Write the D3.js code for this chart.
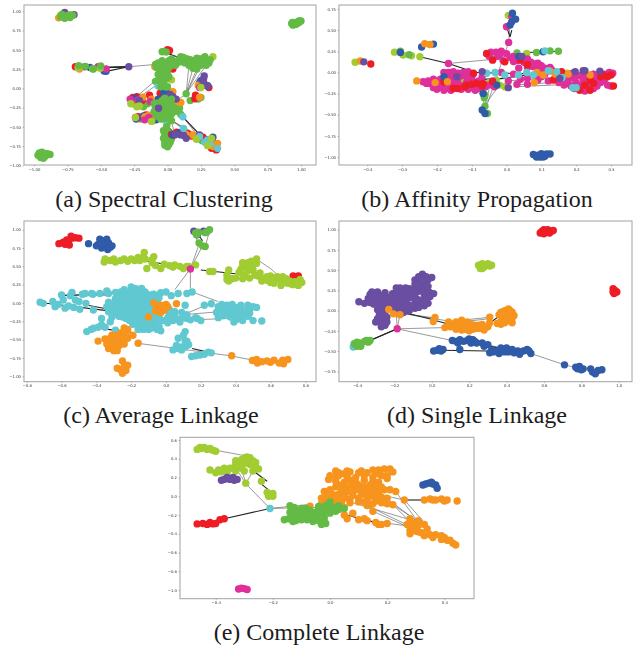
<!DOCTYPE html>
<html lang="en">
<head>
<meta charset="UTF-8">
<title>Clustering comparison</title>
<script src="https://d3js.org/d3.v7.min.js"></script>
<style>
    html, body { margin: 0; padding: 0; background: white; }
    svg { display: block; }
    .frame { fill: white; stroke: #a2a2a2; stroke-width: 1; }
    .edge { stroke: #555; stroke-width: 0.6; fill: none; }
    .edge-thick { stroke: #222; stroke-width: 1.1; fill: none; }
    .tick text { font-family: "DejaVu Sans", sans-serif; font-size: 3.8px; fill: #333; }
    .tick line { stroke: #666; stroke-width: 0.4; }
    .domain { display: none; }
    .caption { font-family: "Liberation Serif", serif; font-size: 24px; fill: #1c1c1c; text-anchor: middle; }
</style>
</head>
<body>
<script>
// ---- (a) Spectral Clustering
const spectralXTicks = [-1, -0.75, -0.5, -0.25, 0, 0.25, 0.5, 0.75, 1];
const spectralYTicks = [-1, -0.75, -0.5, -0.25, 0, 0.25, 0.5, 0.75, 1];
const spectralGreenBack = [[-0.01,-0.52],[0,-0.56],[-0.02,-0.6],[0.01,-0.63],[-0.01,-0.67],[0.02,-0.7],[-0.02,-0.7],[0.01,-0.73],[-0.005,-0.48],[0.03,-0.42],[0.14,-0.07],[0.17,-0.16],[0.23,-0.14],[0.25,-0.12],[0.22,-0.66],[0.26,-0.68],[0.33,-0.66],[-0.09,0.09],[-0.03,0.06],[-0.26,-0.16],[-0.18,-0.24],[-0.15,-0.2],[-0.2,-0.4],[-0.11,-0.42],[-0.03,-0.55],[0.02,-0.58],[-0.03,-0.65],[0.03,-0.66],[0,-0.76],[-0.02,-0.74],[0.1,-0.34],[0.09,-0.26]];
const spectralRed = [[0,0.5],[0.015,0.49],[0.03,0.28],[0.04,0.25],[0.27,0.36],[-0.69,0.28],[-0.135,-0.09],[-0.055,-0.065],[-0.23,-0.11],[-0.16,-0.345],[-0.22,-0.37],[0.205,-0.135],[0.31,0.01],[0.05,-0.605],[0.365,-0.8],[0.265,-0.635],[0.15,-0.585],[0.345,-0.715],[0.03,-0.6],[-0.04,-0.17],[-0.08,-0.35],[0.07,-0.57],[0.18,-0.62],[0.33,-0.78],[-0.19,-0.16],[-0.26,-0.12],[-0.18,-0.38],[0.28,0.05],[0.21,-0.09]];
const spectralBlue = [[-0.07,-0.14],[0.005,-0.04],[-0.085,-0.41],[-0.13,-0.37],[0.09,-0.575],[0.04,-0.605],[0.3,0.035],[0.24,0.07],[0.34,-0.635],[-0.62,0.28],[-0.235,-0.4],[-0.46,0.22],[-0.475,0.225],[-0.58,0.27],[0,0.33],[-0.03,-0.05],[0.11,-0.59],[0.31,-0.67],[-0.2,-0.13],[-0.25,-0.13],[-0.18,-0.36],[0.25,0.1],[0.27,0.04]];
const spectralPurple = [[0.265,0.085],[0.275,0.16],[0.3,0.03],[0.04,-0.11],[0.065,-0.14],[0.1,-0.605],[0.14,-0.65],[-0.225,-0.39],[0.24,-0.605],[-0.77,0.985],[-0.7,0.955],[-0.29,0.28],[0.06,-0.6],[0.12,-0.61],[-0.21,-0.16],[0.27,0.12],[0.02,-0.08]];
const spectralOrange = [[-0.185,-0.115],[-0.115,-0.4],[-0.085,-0.2],[0.05,-0.205],[0.04,-0.045],[0.1,-0.185],[0.375,-0.715],[0.24,-0.115],[-0.17,-0.37],[0.34,-0.755],[0.19,-0.605],[-0.095,0.28],[-0.66,0.25],[-0.815,0.915],[0.01,0.27],[-0.12,-0.14],[0.23,0.04],[-0.14,-0.35],[-0.23,-0.2],[0.14,-0.6],[0.36,-0.74]];
const spectralMagenta = [[-0.28,-0.14],[-0.52,0.28],[-0.46,0.25],[-0.17,-0.41],[-0.22,-0.15],[-0.24,-0.38],[-0.13,-0.17],[0.24,0.01],[-0.25,-0.2],[-0.14,-0.38]];
const spectralTeal = [[0.115,-0.37],[-0.02,-0.41],[0.3,-0.67],[0.225,0.295],[-0.07,0.03],[0.24,-0.63],[0.375,-0.78],[-0.02,0.22],[0.12,-0.52],[0.28,-0.7],[0.32,-0.72]];
const spectralLime = [[0.34,0.41],[-0.275,-0.2],[-0.21,-0.23],[0.3,-0.745],[0.33,-0.65],[0.215,-0.66],[0.25,0.01],[-0.12,-0.43],[-0.01,0.02],[-0.67,0.27],[-0.56,0.25],[-0.505,0.26],[-0.8,0.95],[-0.725,0.955],[0.03,0.11],[-0.23,-0.24],[-0.24,-0.38]];
const spectralGreenFront = [[-0.09,0.31],[-0.07,0.33],[-0.05,0.3],[-0.03,0.33],[-0.01,0.28],[0.01,0.36],[0.03,0.38],[0.06,0.35],[0.09,0.38],[0.1,0.41],[0.12,0.36],[0.15,0.38],[0.17,0.37],[0.18,0.33],[0.2,0.36],[0.22,0.39],[0.24,0.34],[0.26,0.38],[0.28,0.41],[0.3,0.36],[0.31,0.33],[0.16,0.3],[0.19,0.26],[0.22,0.25],[0.25,0.3],[0.29,0.3],[0.32,0.37],[0.03,0.3],[0.06,0.3],[0,0.24],[-0.02,0.21],[-0.04,0.25],[-0.06,0.23],[-0.03,0.17],[-0.05,0.12],[-0.01,0.12],[-0.05,0.02],[0,0.02],[-0.06,0.29],[-0.04,0.36],[-0.03,0.48],[-0.01,0.47],[-0.04,0.475],[-0.8,0.93],[-0.79,0.96],[-0.77,0.91],[-0.75,0.94],[-0.73,0.92],[-0.71,0.95],[0.93,0.84],[0.945,0.85],[0.96,0.855],[0.975,0.86],[0.99,0.87],[1,0.875],[0.95,0.83],[0.97,0.84],[0.985,0.855],[0.935,0.855],[-0.96,-0.84],[-0.94,-0.87],[-0.92,-0.89],[-0.95,-0.9],[-0.97,-0.87],[-0.9,-0.85],[-0.88,-0.86],[-0.92,-0.85],[-0.94,-0.83],[-0.665,0.295],[-0.615,0.285],[-0.555,0.25],[-0.5,0.29],[-0.1,-0.2],[-0.07,-0.19],[-0.04,-0.22],[-0.01,-0.18],[0.02,-0.2],[0.05,-0.25],[-0.09,-0.25],[-0.06,-0.28],[-0.02,-0.26],[0.01,-0.29],[0.04,-0.31],[-0.08,-0.32],[-0.04,-0.34],[-0.01,-0.35],[0.02,-0.36],[-0.1,-0.3],[0.06,-0.3],[-0.05,-0.4],[-0.02,-0.13],[0.03,-0.14],[0.01,0.32],[0.05,0.33],[0.09,0.34],[0.13,0.33],[0.22,0.33],[0.26,0.34],[0.2,0.3],[-0.08,0.27],[-0.02,0.29],[-0.04,0.2],[0,0.18],[-0.07,0.18],[-0.07,0.1],[-0.03,0.09],[0.01,0.15],[0.03,0.34],[0.12,0.4],[0.24,0.38],[-0.07,-0.22],[-0.03,-0.29],[0,-0.22],[0.03,-0.26],[-0.06,-0.36],[0,-0.31],[0.06,-0.27],[-0.04,-0.16],[-0.08,-0.36],[0.03,-0.33],[-0.01,-0.39],[-0.95,-0.86],[-0.91,-0.87],[-0.93,-0.91],[-0.76,0.93],[-0.74,0.95],[0.96,0.83],[0.985,0.875],[0.94,0.82]];
const spectralPurpleFront = [[-0.067,-0.26]];
const spectralEdges = [[-0.29,0.28,-0.09,0.31],[-0.07,0.13,-0.22,-0.09],[-0.05,0.08,-0.2,-0.1],[0.14,-0.07,0.19,0.26],[0.14,-0.07,0.16,0.3],[0.14,-0.07,0.22,0.25],[0.14,-0.07,0.25,0.3],[0.14,-0.07,0.29,0.3],[0.12,-0.52,-0.01,-0.36],[0.115,-0.37,0.22,-0.6],[0.03,-0.42,0.24,-0.62],[0.03,-0.42,0.16,-0.58],[0.03,-0.42,0.05,-0.58],[0.12,-0.37,0.03,-0.28],[0.14,-0.07,0.04,-0.2]];
const spectralThick = [[-0.29,0.28,-0.46,0.22],[-0.29,0.28,-0.55,0.26],[-0.29,0.28,-0.62,0.27],[-0.29,0.28,-0.66,0.26],[0.2,0.33,0.31,0.3],[-0.01,0.46,0.07,0.41],[0.115,-0.37,0.24,-0.6],[0,-0.5,0.05,-0.57],[0.25,-0.6,0.3,-0.63]];

// ---- (b) Affinity Propagation
const affinityXTicks = [-0.4, -0.3, -0.2, -0.1, 0, 0.1, 0.2, 0.3];
const affinityYTicks = [-1, -0.75, -0.5, -0.25, 0, 0.25, 0.5, 0.75];
const affinityGreen = [[-0.062,-0.27],[-0.064,-0.3],[-0.062,-0.4],[-0.055,-0.485],[0.125,0.255],[0.149,0.25],[0.086,0.235],[-0.28,0.21],[0.03,0.23],[-0.305,0.25],[-0.04,0.16]];
const affinityLime = [[-0.435,0.12],[-0.322,0.24],[-0.297,0.205],[-0.249,0.185],[-0.273,0.197],[0.005,0.675],[-0.005,-0.17],[-0.03,-0.09],[-0.124,-0.1],[0.225,-0.12],[0.058,0.225],[-0.05,-0.12],[-0.02,-0.15],[0.175,-0.01]];
const affinityBlue = [[0.017,0.7],[0.026,0.63],[0.01,0.56],[0.015,0.6],[0.077,-0.97],[0.086,-1],[0.096,-1],[0.105,-1],[0.115,-0.965],[0.125,-0.965],[0.1,-0.96],[0.11,-0.99],[0.09,-0.98],[-0.244,0.3],[-0.21,0.335],[-0.305,0.235],[-0.067,-0.25],[-0.07,-0.445],[-0.062,-0.485],[-0.028,-0.15],[0.105,0.245],[0.035,0.19],[-0.18,-0.05]];
const affinityMagenta = [[-0.167,0.106],[0.006,0.355],[0,0.54],[0.015,0.66],[-0.18,0],[-0.167,0],[-0.153,0.01],[-0.139,-0.01],[-0.124,0],[-0.11,0.01],[-0.096,-0.02],[-0.24,-0.11],[-0.225,-0.1],[-0.21,-0.08],[-0.2,-0.13],[-0.19,-0.17],[-0.175,-0.1],[-0.175,-0.19],[-0.16,-0.21],[-0.145,-0.17],[-0.13,-0.2],[-0.115,-0.12],[-0.1,-0.18],[-0.085,-0.17],[-0.19,-0.08],[-0.16,-0.06],[-0.14,-0.07],[-0.21,-0.16],[-0.23,-0.13],[-0.057,0.22],[-0.045,0.24],[-0.03,0.24],[-0.015,0.25],[0,0.22],[0.01,0.18],[-0.025,0.19],[-0.01,0.14],[0.02,0.13],[-0.05,0.19],[0.06,0.16],[0.07,0.12],[0.075,0.07],[0.09,0.05],[0.1,0.08],[0.06,0.06],[0.035,0.05],[0.11,-0.02],[0.14,-0.06],[0.15,-0.12],[0.165,-0.03],[0.165,-0.15],[0.18,-0.07],[0.19,-0.01],[0.21,-0.04],[0.23,-0.06],[0.2,-0.12],[0.215,-0.17],[0.24,-0.17],[0.25,-0.02],[0.265,-0.08],[0.285,-0.06],[0.26,-0.16],[0.28,-0.02],[0.295,0],[0.3,-0.16],[0.29,-0.15],[0.27,-0.12],[0.225,-0.22],[0.005,-0.1],[0.03,-0.14],[0.06,-0.14],[0.09,-0.09],[-0.07,-0.05],[-0.04,-0.1],[-0.08,-0.1],[-0.015,0],[0.02,-0.02],[0.1,0],[0.13,0.03],[0.05,0.12],
    [-0.175,-0.05],[-0.15,-0.04],[-0.13,-0.04],[-0.115,-0.05],[-0.1,-0.06],[-0.22,-0.13],[-0.21,-0.18],[-0.2,-0.2],[-0.18,-0.21],[-0.17,-0.15],[-0.155,-0.12],[-0.14,-0.13],[-0.125,-0.16],[-0.11,-0.2],[-0.095,-0.12],[-0.09,-0.21],[-0.075,-0.19],[-0.06,-0.17],[-0.05,-0.15],[-0.035,-0.17],[-0.02,0.21],[0.02,0.19],[0.03,0.14],[0.045,0.17],[0.08,0.1],[0.09,0.11],[0.11,0.05],[0.125,0.06],[0.14,0],[0.155,-0.06],[0.17,-0.09],[0.175,-0.13],[0.185,-0.16],[0.195,-0.07],[0.205,-0.15],[0.22,-0.09],[0.225,-0.03],[0.24,-0.05],[0.255,-0.09],[0.27,-0.03],[0.28,-0.1],[0.29,-0.03],[0.305,-0.01],[0.25,-0.19],[0.23,-0.2],[0.195,-0.19],[0.12,-0.1],[0.1,-0.05],[0.08,-0.03],[0.06,-0.07],[0.04,-0.08]];
const affinityRed = [[-0.39,0.1],[-0.04,0.145],[-0.005,0.125],[0.04,0.145],[-0.057,0.225],[-0.095,-0.01],[-0.086,-0.13],[-0.115,-0.15],[-0.153,-0.19],[-0.067,-0.13],[0.158,0.008],[0.24,-0.09],[0.278,-0.03],[0.3,-0.03],[0.307,-0.16],[0.24,-0.21],[0.21,-0.21],[0.134,-0.09],[-0.04,-0.11],[-0.18,-0.11],[0.25,-0.13],[0.27,-0.05],[0.06,0.09],[-0.12,-0.17],[-0.1,-0.14],[0.225,-0.15],[0.29,-0.05],[-0.07,-0.16],[-0.14,-0.19]];
const affinityOrange = [[-0.258,-0.1],[-0.42,0.135],[-0.235,0.34],[0.08,-0.12],[0.105,-0.03],[0.087,0],[0.125,0.015],[0.177,-0.02],[0.24,-0.03],[-0.17,-0.11],[0.14,-0.02],[-0.205,-0.12],[-0.22,0.33]];
const affinityTeal = [[-0.005,-0.03],[0.034,-0.03],[0.058,0],[0.077,-0.03],[0.144,0.008],[0.2,-0.18],[0.19,-0.18],[0.11,0.255],[-0.033,0],[-0.057,-0.01],[0.16,-0.06],[0.12,0.02]];
const affinityPurple = [[-0.41,0.125],[-0.143,-0.05],[-0.07,0.01],[0.197,0.01],[0.22,0.02],[0.268,0.015],[0.005,-0.18],[0.153,-0.07],[0.044,0.19],[0.225,0.02]];
const affinityEdges = [[-0.167,0.106,-0.05,0.15],[0.006,0.355,-0.055,-0.37],[0.006,0.355,0.01,0.56],[-0.062,-0.38,-0.09,-0.15],[-0.062,-0.38,-0.02,-0.15],[-0.062,-0.38,-0.05,-0.2],[0,-0.1,0.2,-0.05],[0.02,-0.15,0.2,-0.1],[0.02,-0.17,0.24,-0.13]];
const affinityThick = [[-0.249,0.185,-0.167,0.106],[-0.167,0.106,-0.09,0],[0,0.54,0.01,0.42],[-0.18,-0.1,0,-0.07],[-0.1,0,0.1,-0.02],[-0.05,-0.09,0.06,-0.03],[0.15,-0.12,0.27,-0.14],[0.06,0.235,0.149,0.25],[0.01,0.42,0.015,0.5]];

// ---- (c) Average Linkage
const averageXTicks = [-0.8, -0.6, -0.4, -0.2, 0, 0.2, 0.4, 0.6, 0.8];
const averageYTicks = [-1, -0.75, -0.5, -0.25, 0, 0.25, 0.5, 0.75, 1];
const averageRed = [[-0.615,0.81],[-0.58,0.8],[-0.56,0.84],[-0.54,0.885],[-0.52,0.89],[-0.5,0.885],[-0.545,0.91],[-0.57,0.86],[-0.555,0.79],[-0.59,0.83],[0.73,0.37],[0.75,0.36],[0.76,0.37]];
const averageBlue = [[-0.445,0.81],[-0.39,0.8],[-0.38,0.87],[-0.36,0.85],[-0.34,0.87],[-0.33,0.82],[-0.31,0.78],[-0.335,0.73],[-0.37,0.75],[-0.35,0.77],[-0.32,0.76],[-0.4,0.78],[-0.365,0.81]];
const averagePurple = [[0.16,0.98],[0.215,0.98],[0.18,0.93]];
const averageGreen = [[0.17,0.955],[0.185,0.965],[0.225,0.96],[0.25,1],[0.19,0.82],[0.21,0.78],[0.225,0.77],[0.175,0.93],[0.235,0.97]];
const averageLime = [[-0.355,0.56],[-0.35,0.6],[-0.32,0.58],[-0.29,0.56],[-0.26,0.58],[-0.22,0.57],[-0.18,0.58],[-0.16,0.62],[-0.13,0.62],[-0.12,0.6],[-0.08,0.59],[-0.125,0.69],[-0.07,0.63],[-0.11,0.47],[-0.06,0.51],[-0.03,0.47],[-0.01,0.53],[0.02,0.51],[0.05,0.52],[0.08,0.5],[0.1,0.47],[0.17,0.52],[0.25,0.43],[0.27,0.43],[0.36,0.45],[0.35,0.38],[0.36,0.3],[0.35,0.32],[0.4,0.34],[0.44,0.33],[0.45,0.38],[0.48,0.34],[0.42,0.42],[0.44,0.5],[0.44,0.55],[0.47,0.55],[0.49,0.57],[0.51,0.55],[0.52,0.6],[0.49,0.51],[0.51,0.38],[0.54,0.36],[0.56,0.33],[0.58,0.36],[0.6,0.33],[0.62,0.3],[0.64,0.36],[0.66,0.3],[0.68,0.28],[0.69,0.33],[0.66,0.24],[0.71,0.3],[0.74,0.29],[0.76,0.24],[0.78,0.28],[0.77,0.32],[0.72,0.26],
    [0.46,0.5],[0.47,0.44],[0.43,0.46],[0.5,0.45],[0.52,0.54],[0.53,0.37],[0.55,0.3],[0.58,0.31],[0.6,0.28],[0.63,0.35],[0.65,0.33],[0.67,0.36],[0.7,0.27],[0.73,0.25],[0.75,0.27],[0.38,0.33],[-0.2,0.6],[-0.24,0.6],[-0.08,0.55],[0.12,0.5],[0.04,0.49],[-0.3,0.6],[-0.15,0.58],[0.13,0.5],[0.54,0.41],[0.6,0.37],[0.62,0.27]];
const averageTeal = [[-0.723,0.01],[-0.705,-0.005],[-0.6,0.11],[-0.59,0.04],[-0.637,-0.05],[-0.58,-0.07],[-0.54,0.145],[-0.52,0.04],[-0.495,-0.085],[-0.465,0.13],[-0.427,0.13],[-0.38,0.13],[-0.34,0.165],[-0.29,0.145],[-0.46,-0.005],[-0.417,-0.095],[-0.455,-0.39],[-0.417,-0.345],[-0.37,-0.3],[-0.37,-0.21],[-0.32,-0.255],[-0.29,-0.37],[-0.26,0.15],[-0.24,0.17],[-0.22,0.14],[-0.2,0.22],[-0.19,0.16],[-0.17,0.19],[-0.14,0.15],[-0.12,0.1],[-0.27,0.09],[-0.24,0.06],[-0.3,0],[-0.31,-0.06],[-0.29,-0.12],[-0.27,-0.03],[-0.25,-0.09],[-0.27,-0.18],[-0.23,-0.04],[-0.21,0.04],[-0.19,0.08],[-0.17,0.03],[-0.21,-0.13],[-0.19,-0.05],[-0.17,-0.11],[-0.15,-0.02],[-0.13,0.06],[-0.11,0.02],[-0.19,-0.19],[-0.15,-0.16],[-0.13,-0.08],[-0.11,-0.14],[-0.09,-0.06],[-0.16,-0.24],[-0.12,-0.22],[-0.09,-0.19],[-0.07,-0.12],[-0.05,-0.22],[-0.19,-0.29],[-0.14,-0.32],[-0.1,-0.3],[-0.06,-0.27],[-0.03,-0.38],[-0.1,-0.36],[-0.07,0.12],[-0.03,0.14],[0,0.15],[0.03,0.1],[0.07,0.13],[0.12,0.13],[0.15,0.15],[0.02,-0.14],[0.05,-0.18],[0.09,-0.13],[0.12,-0.16],[0.04,-0.24],[0.08,-0.26],[0.14,-0.23],[0.18,-0.21],[0.11,-0.39],[0.07,-0.48],[0.12,-0.52],[0.09,-0.6],[0.04,-0.64],[0.09,-0.64],[0.13,-0.57],[0.147,-0.73],[0.17,-0.72],[0.195,-0.71],[0.22,-0.7],[0.243,-0.67],[0.26,-0.68],[0.26,-0.01],[0.33,-0.07],[0.35,-0.03],[0.29,-0.13],[0.3,-0.1],[0.33,-0.17],[0.37,-0.08],[0.4,-0.06],[0.43,-0.03],[0.47,-0.03],[0.5,-0.05],[0.52,-0.06],[0.42,-0.14],[0.46,-0.11],[0.4,-0.2],[0.39,-0.26],[0.44,-0.18],[0.48,-0.14],[0.5,-0.24],[0.55,-0.245],[0.3,-0.2],
    [-0.24,0.18],[-0.2,0.17],[-0.16,0.17],[-0.12,0.15],[-0.28,0.12],[-0.25,0.12],[-0.21,0.11],[-0.17,0.12],[-0.13,0.12],[-0.09,0.11],[-0.05,0.1],[-0.29,0.06],[-0.26,0.04],[-0.2,0.06],[-0.16,0.07],[-0.12,0.04],[-0.08,0.06],[-0.04,0.07],[-0.33,0.01],[-0.28,0.02],[-0.24,0],[-0.2,0.01],[-0.16,-0.01],[-0.12,-0.01],[-0.08,0.01],[-0.05,0.03],[-0.34,-0.05],[-0.3,-0.07],[-0.26,-0.06],[-0.22,-0.08],[-0.16,-0.07],[-0.12,-0.05],[-0.08,-0.09],[-0.05,-0.05],[-0.33,-0.12],[-0.3,-0.14],[-0.26,-0.13],[-0.23,-0.15],[-0.19,-0.11],[-0.15,-0.1],[-0.11,-0.1],[-0.07,-0.16],[-0.31,-0.19],[-0.25,-0.19],[-0.23,-0.21],[-0.17,-0.18],[-0.13,-0.18],[-0.08,-0.23],[-0.04,-0.18],[-0.21,-0.24],[-0.18,-0.24],[-0.14,-0.26],[-0.1,-0.25],[-0.07,-0.3],[-0.02,-0.24],[-0.16,-0.3],[-0.12,-0.28],[-0.08,-0.34],[-0.04,-0.32],[-0.13,-0.36],[-0.05,-0.36],[-0.16,-0.36],[-0.18,0.2],[-0.14,0.2],[0.05,-0.12],[0.01,-0.2],[0.1,-0.2],[0.17,-0.2],[0.02,-0.09],[0.11,-0.03],[0.01,-0.27],[0.1,-0.44],[0.06,-0.58],[0.07,-0.62],[0.11,-0.6],[0.11,-0.52],[0.36,-0.15],[0.37,-0.19],[0.4,-0.12],[0.43,-0.08],[0.45,-0.15],[0.38,-0.02],[0.41,-0.22],[0.44,-0.24],[0.34,-0.13],[0.48,-0.07],[-0.65,0.02],[-0.62,-0.02],[-0.55,0.1],[-0.56,-0.04],[-0.53,-0.06],[-0.5,0.02],[-0.48,0.12],[-0.42,0.12],[-0.33,0.13],[-0.43,-0.36],[-0.39,-0.33],[-0.35,-0.33],[0.06,-0.22],[0.12,-0.21],[0.2,-0.24],[0.22,-0.03],[0.3,-0.05],[0.32,-0.02],[0.35,-0.11],[0.47,-0.18]];
const averageOrange = [[-0.39,-0.52],[-0.35,-0.49],[-0.33,-0.53],[-0.32,-0.57],[-0.33,-0.62],[-0.3,-0.65],[-0.28,-0.6],[-0.26,-0.55],[-0.3,-0.5],[-0.31,-0.44],[-0.27,-0.47],[-0.24,-0.34],[-0.22,-0.36],[-0.19,-0.44],[-0.22,-0.48],[-0.24,-0.56],[-0.16,-0.55],[-0.25,-0.79],[-0.28,-0.89],[-0.26,-0.91],[-0.24,-0.87],[-0.22,-0.85],[-0.25,-0.96],[-0.23,-0.92],[-0.07,0],[-0.1,-0.19],[-0.06,-0.11],[-0.04,-0.08],[-0.03,-0.13],[-0.01,-0.1],[0,-0.02],[-0.02,-0.04],[0.01,-0.05],[0.06,-0.01],[0.377,-0.72],[0.496,-0.785],[0.52,-0.77],[0.525,-0.82],[0.55,-0.8],[0.58,-0.79],[0.6,-0.81],[0.62,-0.78],[0.65,-0.82],[0.67,-0.78],[0.675,-0.83],[0.7,-0.77],
    [-0.34,-0.56],[-0.31,-0.53],[-0.29,-0.56],[-0.32,-0.48],[-0.29,-0.45],[-0.27,-0.52],[-0.25,-0.44],[-0.24,-0.49],[-0.27,-0.58],[-0.31,-0.6],[-0.28,-0.65],[-0.23,-0.43],[-0.26,-0.41],[-0.05,-0.05],[-0.03,-0.03],[-0.02,-0.09]];
const averageMagenta = [[0.14,0.465]];
const averageEdges = [[0.14,0.465,0.19,0.8],[0.14,0.465,0.21,0.78],[0.14,0.465,0.05,0.18],[0.14,0.465,0.14,0.2],[0.18,0.82,0.17,0.95],[0.225,0.77,0.25,0.98],[0.15,0.15,0.3,0.02],[-0.16,-0.55,0.37,-0.72],[0.37,-0.72,0.5,-0.78],[0.52,0.6,0.6,0.47],[0.6,0.47,0.68,0.3],[-0.6,0.11,-0.33,0.1],[-0.3,0,0.02,-0.14],[0.02,-0.24,0.25,-0.01],[0.1,-0.16,0.4,-0.1],[0.14,-0.23,0.5,-0.2],[0.1,-0.39,0.13,-0.57]];
const averageThick = [[-0.7,0,-0.35,-0.1],[-0.6,0.1,-0.3,0.13],[-0.45,-0.03,-0.25,-0.12],[-0.37,-0.35,-0.2,-0.4],[0.2,0.45,0.4,0.4],[0.35,-0.02,0.5,-0.1],[0.37,-0.12,0.45,-0.2],[-0.11,0.57,0.1,0.49],[0.18,0.95,0.21,0.85],[0.15,-0.62,0.24,-0.67],[0.03,-0.2,0.15,-0.24]];

// ---- (d) Single Linkage
const singleXTicks = [-0.4, -0.2, 0, 0.2, 0.4, 0.6, 0.8, 1];
const singleYTicks = [-0.75, -0.5, -0.25, 0, 0.25, 0.5, 0.75, 1];
const singlePurple = [[-0.39,0.11],[-0.36,0.09],[-0.34,0.15],[-0.33,0.1],[-0.31,0.13],[-0.33,0.2],[-0.29,0.23],[-0.3,0.17],[-0.27,0.18],[-0.26,0.13],[-0.28,0.08],[-0.24,0.09],[-0.23,0.16],[-0.21,0.21],[-0.19,0.28],[-0.17,0.24],[-0.15,0.2],[-0.2,0.14],[-0.18,0.09],[-0.15,0.13],[-0.13,0.08],[-0.12,0.16],[-0.14,0.28],[-0.11,0.23],[-0.09,0.28],[-0.07,0.24],[-0.04,0.2],[-0.01,0.22],[0.01,0.21],[-0.03,0.16],[-0.06,0.13],[-0.09,0.1],[-0.02,0.09],[-0.04,0.06],[-0.09,0.03],[-0.13,0.02],[-0.16,0.01],[-0.21,0.05],[-0.26,0.03],[-0.29,0.01],[-0.28,-0.05],[-0.26,-0.03],[-0.3,-0.14],[-0.28,-0.1],[-0.26,-0.13],[-0.24,-0.08],[-0.27,-0.2],[-0.25,-0.18],[-0.15,-0.02],[-0.09,0.38],[-0.07,0.42],[-0.05,0.45],[-0.03,0.42],[0,0.41],[-0.07,0.36],[-0.03,0.34],[-0.04,0.29],[-0.09,0.33],
    [-0.17,0.28],[-0.12,0.27],[-0.06,0.28],[-0.32,0.23],[-0.25,0.22],[-0.19,0.23],[-0.13,0.22],[-0.09,0.22],[-0.05,0.25],[-0.02,0.24],[-0.26,0.18],[-0.18,0.18],[-0.09,0.17],[-0.01,0.17],[-0.28,0.12],[-0.22,0.12],[-0.17,0.14],[-0.08,0.14],[-0.03,0.12],[-0.31,0.08],[-0.26,0.07],[-0.21,0.09],[-0.16,0.07],[-0.11,0.06],[-0.06,0.08],[-0.24,0.03],[-0.18,0.04],[-0.14,0.05],[-0.07,0.04],[-0.27,-0.01],[-0.2,0],[-0.16,-0.03],[-0.12,0],[-0.29,-0.1],[-0.25,-0.06],[-0.27,-0.15],[-0.24,-0.14],[-0.06,0.4],[-0.02,0.38],[-0.05,0.33],[-0.07,0.31],[-0.02,0.3]];
const singleOrange = [[-0.23,0.015],[-0.205,-0.04],[-0.17,-0.05],[0.017,-0.085],[0.008,-0.135],[0.07,-0.21],[0.09,-0.14],[0.11,-0.17],[0.1,-0.2],[0.13,-0.14],[0.16,-0.12],[0.15,-0.19],[0.16,-0.24],[0.18,-0.16],[0.2,-0.2],[0.19,-0.14],[0.22,-0.23],[0.23,-0.18],[0.25,-0.18],[0.27,-0.17],[0.26,-0.22],[0.28,-0.24],[0.3,-0.2],[0.31,-0.15],[0.31,-0.08],[0.35,-0.16],[0.37,-0.17],[0.39,-0.15],[0.42,-0.13],[0.43,-0.15],[0.36,-0.05],[0.37,-0.02],[0.39,0],[0.41,0.02],[0.42,-0.05],[0.43,-0.02],[0.38,-0.07],[0.4,-0.09],[0.44,-0.06],
    [0.12,-0.2],[0.13,-0.23],[0.14,-0.17],[0.17,-0.2],[0.18,-0.23],[0.21,-0.17],[0.2,-0.25],[0.24,-0.22],[0.27,-0.2],[0.4,-0.04],[0.38,-0.03],[0.4,-0.12],[0.43,-0.09],[0.37,-0.13],[0.42,0]];
const singleBlue = [[0.11,-0.37],[0.13,-0.38],[0.15,-0.36],[0.14,-0.4],[0.17,-0.38],[0.19,-0.37],[0.2,-0.35],[0.22,-0.36],[0.23,-0.38],[0.24,-0.4],[0.21,-0.4],[0.27,-0.4],[0.28,-0.44],[0.3,-0.42],[0.32,-0.49],[0.03,-0.49],[0.01,-0.5],[0.04,-0.47],[0.05,-0.5],[0.06,-0.48],[0.15,-0.48],[0.31,-0.52],[0.33,-0.51],[0.35,-0.5],[0.36,-0.53],[0.37,-0.46],[0.39,-0.51],[0.4,-0.46],[0.41,-0.51],[0.43,-0.48],[0.44,-0.52],[0.46,-0.5],[0.47,-0.54],[0.49,-0.5],[0.51,-0.48],[0.53,-0.53],[0.52,-0.5],[0.71,-0.67],[0.77,-0.7],[0.78,-0.72],[0.79,-0.69],[0.8,-0.73],[0.81,-0.72],[0.85,-0.72],[0.86,-0.76],[0.875,-0.78],[0.89,-0.74],[0.91,-0.73]];
const singleTeal = [[-0.42,-0.45]];
const singleGreen = [[-0.415,-0.41],[-0.4,-0.44],[-0.39,-0.4],[-0.38,-0.42],[-0.36,-0.38],[-0.35,-0.37],[-0.34,-0.39],[-0.33,-0.37],[-0.38,-0.44],[-0.4,-0.39]];
const singleRed = [[0.58,0.96],[0.59,0.98],[0.6,1],[0.61,0.98],[0.62,1],[0.63,0.96],[0.64,0.98],[0.65,0.99],[0.6,0.95],[0.62,0.97],[0.97,0.27],[0.98,0.25],[0.97,0.23],[0.99,0.23],[0.975,0.21]];
const singleLime = [[0.25,0.56],[0.26,0.52],[0.27,0.58],[0.28,0.54],[0.29,0.56],[0.3,0.58],[0.31,0.55],[0.32,0.56],[0.27,0.52]];
const singleMagenta = [[-0.185,-0.225]];
const singleEdges = [[-0.185,-0.225,-0.17,-0.05],[-0.185,-0.225,-0.19,-0.03],[-0.185,-0.225,0.07,-0.21],[-0.185,-0.225,0.11,-0.37],[-0.17,-0.03,0.12,-0.14],[-0.17,-0.03,0.015,-0.09],[0.11,-0.13,0.32,-0.08],[0.53,-0.53,0.71,-0.67],[0.71,-0.67,0.78,-0.71],[0.2,-0.37,0.37,-0.46],[0.15,-0.14,0.31,-0.1]];
const singleThick = [[-0.185,-0.225,-0.34,-0.38],[-0.185,-0.225,-0.33,-0.37],[0.015,-0.12,0.14,-0.2],[0.05,-0.49,0.3,-0.5],[-0.14,-0.03,0.02,-0.12],[0.3,-0.17,0.36,-0.07],[0.28,-0.43,0.38,-0.47]];

// ---- (e) Complete Linkage
const completeXTicks = [-0.4, -0.2, 0, 0.2, 0.4];
const completeYTicks = [-1, -0.8, -0.6, -0.4, -0.2, 0, 0.2, 0.4, 0.6];
const completeLime = [[-0.465,0.5],[-0.45,0.51],[-0.44,0.52],[-0.42,0.51],[-0.41,0.49],[-0.4,0.48],[-0.31,0.39],[-0.3,0.41],[-0.29,0.42],[-0.28,0.41],[-0.27,0.38],[-0.31,0.33],[-0.33,0.34],[-0.35,0.3],[-0.37,0.3],[-0.39,0.28],[-0.42,0.28],[-0.4,0.25],[-0.33,0.27],[-0.3,0.35],[-0.28,0.34],[-0.26,0.31],[-0.27,0.27],[-0.25,0.29],[-0.33,0.18],[-0.295,0.14],[-0.24,0.16],[-0.22,0.04],[-0.21,0.02],[-0.2,0.03],[-0.2,0],[-0.215,0],
    [-0.38,0.26],[-0.36,0.26],[-0.34,0.3],[-0.31,0.3],[-0.3,0.27],[-0.29,0.37],[-0.26,0.36],[-0.33,0.38],[-0.43,0.5],[-0.455,0.52]];
const completePurple = [[-0.38,0.17],[-0.37,0.18],[-0.36,0.2],[-0.35,0.18],[-0.34,0.2],[-0.335,0.17],[-0.325,0.18]];
const completeOrange = [[-0.07,-0.105],[-0.03,-0.08],[-0.02,-0.06],[0,-0.03],[0.01,-0.08],[0.03,-0.05],[0.05,-0.12],[0.04,-0.07],[-0.005,0.18],[0.02,0.2],[0.03,0.25],[0.05,0.24],[0.07,0.26],[0.09,0.2],[0.1,0.25],[0.13,0.25],[0.15,0.28],[0.17,0.28],[0.19,0.29],[0.21,0.29],[0.18,0.22],[0.2,0.22],[0.15,0.2],[0.12,0.17],[0.05,0.15],[0.02,0.1],[0,0.07],[-0.02,0.05],[-0.01,0],[0.03,0.02],[0.07,0.1],[0.09,0.07],[0.06,0.05],[0.1,0.12],[0.14,0.12],[0.12,0.04],[0.15,0.05],[0.17,0.03],[0.1,-0.02],[0.08,0.01],[0.13,-0.04],[0.16,-0.05],[0.19,-0.06],[0.18,-0.01],[0.22,-0.09],[0.18,0.1],[0.21,0.07],[0.23,0.05],[0.13,-0.1],[0.08,-0.18],[0.05,-0.2],[0.06,-0.24],[0.1,-0.25],[0.13,-0.26],[0.15,-0.16],[0.16,-0.28],[0.17,-0.3],[0.2,-0.29],[0.28,-0.24],[0.27,-0.3],[0.29,-0.29],[0.28,-0.36],[0.3,-0.34],[0.31,-0.29],[0.33,-0.3],[0.28,-0.4],[0.33,-0.42],[0.36,-0.44],[0.37,-0.41],[0.39,-0.46],[0.41,-0.47],[0.43,-0.5],[0.44,-0.52],[0.26,-0.04],[0.33,-0.04],[0.35,-0.03],[0.37,-0.04],[0.39,-0.03],[0.41,-0.04],[0.445,-0.05],[0.31,-0.38],[0.34,-0.35],
    [0.02,0.27],[0.06,0.27],[0.11,0.27],[0.16,0.25],[0,0.22],[0.03,0.22],[0.06,0.21],[0.12,0.22],[0.17,0.24],[0.02,0.16],[0.07,0.17],[0.09,0.15],[0.15,0.16],[0.17,0.15],[0.03,0.12],[0.05,0.1],[0.08,0.13],[0.12,0.1],[0.16,0.12],[0.04,0.07],[0.07,0.05],[0.11,0.07],[0.13,0.08],[0.16,0.08],[0.19,0.07],[0.01,0.02],[0.05,0.01],[0.08,0.05],[0.11,0.02],[0.13,0.01],[0.16,0],[-0.03,-0.02],[0.02,-0.02],[0.05,-0.02],[0.07,-0.03],[0.14,0],[0.12,-0.06],[0.15,-0.08],[0.2,-0.02],[0.18,-0.07],[0.2,-0.08],[0.1,-0.06],[0.07,-0.07],[0.29,-0.33],[0.3,-0.37],[0.32,-0.39],[0.35,-0.41],[0.39,-0.42],[0.4,-0.44],[0.31,-0.26],[0.28,-0.27],[0.12,-0.24],[0.18,-0.3],[0.31,-0.31],[0.36,-0.04],[0.4,-0.05],[0.42,-0.47],[0.22,0.26],[0.2,0.19]];
const completeGreen = [[-0.16,-0.25],[-0.145,-0.24],[-0.13,-0.27],[-0.12,-0.22],[-0.14,-0.1],[-0.125,-0.12],[-0.11,-0.17],[-0.09,-0.2],[-0.07,-0.22],[-0.06,-0.27],[-0.05,-0.17],[-0.03,-0.3],[-0.015,-0.29],[-0.04,-0.14],[-0.02,-0.11],[0,-0.06],[0,-0.18],[0.02,-0.16],[0.03,-0.1],[0.05,-0.13],[-0.02,-0.23],[-0.085,-0.13],[-0.1,-0.25],[-0.14,-0.17],
    [-0.12,-0.15],[-0.1,-0.13],[-0.1,-0.19],[-0.13,-0.2],[-0.08,-0.25],[-0.07,-0.15],[-0.07,-0.18],[-0.05,-0.22],[-0.04,-0.26],[-0.02,-0.27],[-0.02,-0.16],[-0.01,-0.09],[0.01,-0.12],[0.03,-0.14],[-0.04,-0.11],[-0.11,-0.24],[-0.12,-0.26],[-0.03,-0.19],[-0.01,-0.14]];
const completeBlue = [[0.325,0.12],[0.335,0.13],[0.345,0.14],[0.36,0.13],[0.37,0.12],[0.375,0.085],[0.355,0.15]];
const completeRed = [[-0.465,-0.295],[-0.445,-0.29],[-0.43,-0.3],[-0.42,-0.28],[-0.41,-0.295],[-0.385,-0.25],[-0.37,-0.24],[-0.4,-0.29]];
const completeMagenta = [[-0.32,-0.99],[-0.31,-0.98],[-0.3,-0.985],[-0.29,-0.995]];
const completeTeal = [[-0.21,-0.13]];
const completeEdges = [[-0.21,-0.13,-0.3,0.15],[-0.21,-0.13,-0.08,-0.09],[-0.21,-0.13,-0.04,-0.12],[-0.4,0.49,-0.31,0.44],[-0.33,0.3,-0.33,0.18],[-0.33,0.3,-0.3,0.16],[-0.31,0.3,-0.295,0.14],[-0.26,0.31,-0.295,0.14],[0.13,-0.26,0.28,-0.32],[0.08,-0.07,0.28,-0.25],[0.15,-0.16,0.29,-0.35],[0.22,-0.09,0.31,-0.27],[0.18,0.02,0.31,-0.28],[0.13,-0.1,0.28,-0.32],[0.26,-0.04,0.2,0],[0.23,0.05,0.31,-0.28],[0.26,-0.04,0.33,-0.28],[0.2,-0.03,0.27,-0.24]];
const completeThick = [[-0.37,-0.24,-0.21,-0.13],[-0.26,0.25,-0.22,0.16],[-0.24,0.13,-0.2,0.03],[0.26,-0.04,0.33,-0.04],[0.06,-0.2,0.13,-0.26],[0.13,-0.26,0.18,-0.29],[0.33,-0.36,0.38,-0.42],[-0.1,-0.13,-0.07,-0.11]];

const colors = {
    green: "#63bb46", lime: "#a1cd32", blue: "#2f5ba8", purple: "#6a4ea1",
    red: "#ee1c25", orange: "#f7941e", teal: "#60c8d0", magenta: "#de2f9a"
};

// frame boxes measured in page pixels, xRef/yRef tie two tick values to their page position
const panels = [
    { caption: "(a) Spectral Clustering", capX: 164, capY: 207, box: [24, 5, 316, 165],
      xRef: [-1, 1, 34, 301], yRef: [-1, 1, 165.3, 11.3], xTicks: spectralXTicks, yTicks: spectralYTicks, xFmt: ".2f", yFmt: ".2f",
      edges: spectralEdges, thick: spectralThick,
      series: [["green", spectralGreenBack], ["red", spectralRed], ["blue", spectralBlue], ["orange", spectralOrange], ["magenta", spectralMagenta], ["purple", spectralPurple], ["teal", spectralTeal], ["lime", spectralLime], ["green", spectralGreenFront], ["purple", spectralPurpleFront]] },
    { caption: "(b) Affinity Propagation", capX: 477, capY: 207, box: [339, 5, 632, 165],
      xRef: [-0.4, 0.3, 367.3, 611], yRef: [-1, 0.75, 157, 9], xTicks: affinityXTicks, yTicks: affinityYTicks, xFmt: ".1f", yFmt: ".2f",
      edges: affinityEdges, thick: affinityThick,
      series: [["lime", affinityLime], ["green", affinityGreen], ["magenta", affinityMagenta], ["red", affinityRed], ["blue", affinityBlue], ["orange", affinityOrange], ["teal", affinityTeal], ["purple", affinityPurple]] },
    { caption: "(c) Average Linkage", capX: 161, capY: 423, box: [24, 221, 316, 381.7],
      xRef: [-0.8, 0.8, 26.7, 305.3], yRef: [-1, 1, 376.3, 229.7], xTicks: averageXTicks, yTicks: averageYTicks, xFmt: ".1f", yFmt: ".2f",
      edges: averageEdges, thick: averageThick,
      series: [["red", averageRed], ["blue", averageBlue], ["purple", averagePurple], ["green", averageGreen], ["lime", averageLime], ["teal", averageTeal], ["orange", averageOrange], ["magenta", averageMagenta]] },
    { caption: "(d) Single Linkage", capX: 477, capY: 423, box: [339, 221, 632, 381.7],
      xRef: [-0.4, 1, 357, 618.7], yRef: [-0.75, 1, 371.3, 229.7], xTicks: singleXTicks, yTicks: singleYTicks, xFmt: ".1f", yFmt: ".2f",
      edges: singleEdges, thick: singleThick,
      series: [["teal", singleTeal], ["green", singleGreen], ["purple", singlePurple], ["orange", singleOrange], ["blue", singleBlue], ["red", singleRed], ["lime", singleLime], ["magenta", singleMagenta]] },
    { caption: "(e) Complete Linkage", capX: 319, capY: 640, box: [180, 437.3, 474, 598.7],
      xRef: [-0.4, 0.4, 215.7, 444.3], yRef: [-1, 0.6, 590, 440], xTicks: completeXTicks, yTicks: completeYTicks, xFmt: ".1f", yFmt: ".1f",
      edges: completeEdges, thick: completeThick,
      series: [["lime", completeLime], ["purple", completePurple], ["orange", completeOrange], ["green", completeGreen], ["blue", completeBlue], ["red", completeRed], ["magenta", completeMagenta], ["teal", completeTeal]] }
];

const nodeRadius = 3.7;

const svg = d3.select("body").append("svg")
    .attr("width", 637)
    .attr("height", 650);

panels.forEach(p => {
    const x = d3.scaleLinear().domain([p.xRef[0], p.xRef[1]]).range([p.xRef[2], p.xRef[3]]);
    const y = d3.scaleLinear().domain([p.yRef[0], p.yRef[1]]).range([p.yRef[2], p.yRef[3]]);
    const [left, top, right, bottom] = p.box;

    const g = svg.append("g").style("filter", "blur(0.35px)");

    g.append("rect").attr("class", "frame")
        .attr("x", left).attr("y", top)
        .attr("width", right - left).attr("height", bottom - top);

    g.append("g").attr("transform", `translate(0,${bottom})`)
        .call(d3.axisBottom(x).tickValues(p.xTicks).tickFormat(d3.format(p.xFmt)).tickSize(1.5).tickPadding(1.5));
    g.append("g").attr("transform", `translate(${left},0)`)
        .call(d3.axisLeft(y).tickValues(p.yTicks).tickFormat(d3.format(p.yFmt)).tickSize(1.5).tickPadding(1.5));

    g.selectAll(".edge").data(p.edges).enter().append("line").attr("class", "edge")
        .attr("x1", d => x(d[0])).attr("y1", d => y(d[1]))
        .attr("x2", d => x(d[2])).attr("y2", d => y(d[3]));
    g.selectAll(".edge-thick").data(p.thick).enter().append("line").attr("class", "edge-thick")
        .attr("x1", d => x(d[0])).attr("y1", d => y(d[1]))
        .attr("x2", d => x(d[2])).attr("y2", d => y(d[3]));

    p.series.forEach(([color, points]) => {
        g.append("g").selectAll("circle").data(points).enter().append("circle")
            .attr("cx", d => x(d[0]))
            .attr("cy", d => y(d[1]))
            .attr("r", nodeRadius)
            .attr("fill", colors[color]);
    });

    svg.append("text").attr("class", "caption")
        .attr("x", p.capX).attr("y", p.capY)
        .text(p.caption);
});
</script>
</body>
</html>
